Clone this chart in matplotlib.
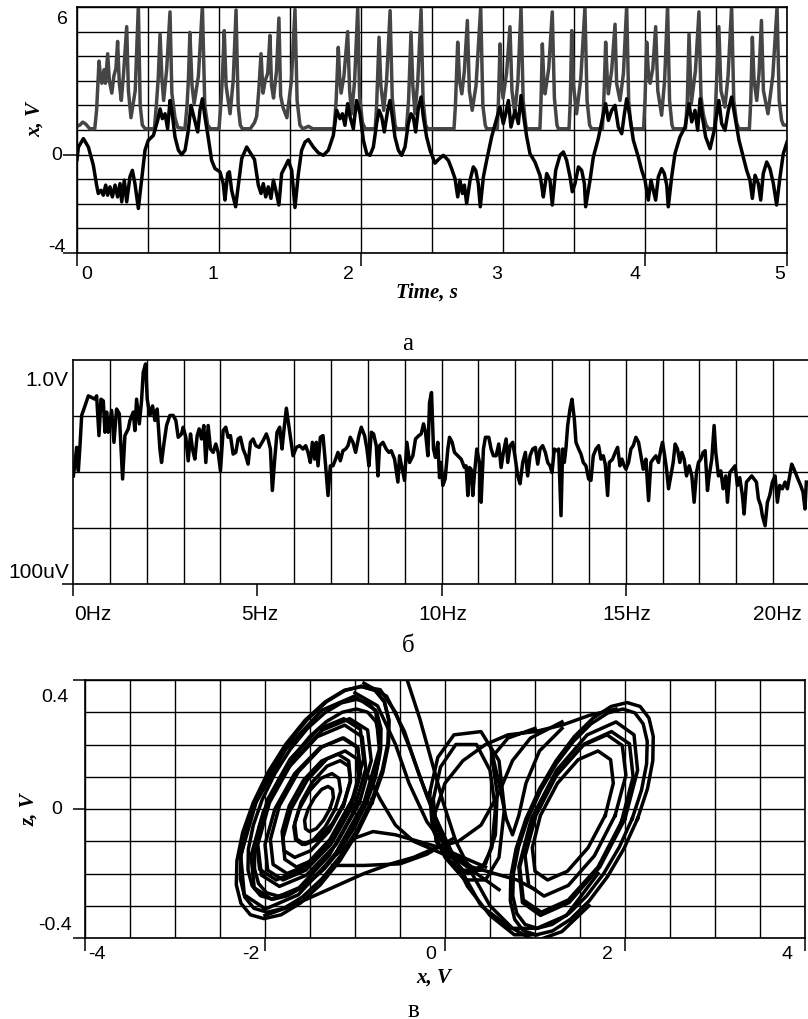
import numpy as np
import matplotlib.pyplot as plt

# ---- (a) oscillograms: (time s, volts) ----
x_trace = [
    (0.00, -0.20), (0.01, 0.31), (0.045, 0.65), (0.08, 0.31), (0.115, -0.43), (0.138, -1.24),
    (0.15, -1.58), (0.169, -1.45), (0.185, -1.65), (0.202, -1.24), (0.216, -1.65), (0.232, -1.31),
    (0.249, -1.72), (0.268, -1.24), (0.286, -1.72), (0.303, -1.18), (0.315, -1.92), (0.333, -1.04),
    (0.35, -1.92), (0.373, -0.90), (0.39, -0.64), (0.408, -1.18), (0.432, -2.19), (0.455, -1.04),
    (0.479, 0.18), (0.502, 0.58), (0.538, 0.78), (0.568, 1.39), (0.585, 1.86), (0.601, 1.46),
    (0.62, 1.66), (0.638, 1.05), (0.655, 2.20), (0.671, 1.66), (0.69, 0.72), (0.714, 0.18),
    (0.737, 0.00), (0.761, 0.18), (0.784, 0.99), (0.803, 2.00), (0.826, 1.46), (0.85, 0.92),
    (0.866, 1.80), (0.883, 2.27), (0.901, 1.53), (0.92, 0.85), (0.948, -0.23), (0.972, -0.57),
    (1.007, -0.70), (1.03, -1.18), (1.042, -1.85), (1.061, -0.77), (1.073, -0.70), (1.089, -1.45),
    (1.117, -2.12), (1.136, -1.24), (1.16, -0.16), (1.195, 0.31), (1.218, 0.10), (1.25, -0.20),
    (1.277, -1.24), (1.296, -1.58), (1.312, -1.18), (1.329, -1.72), (1.347, -1.31), (1.366, -1.78),
    (1.383, -1.04), (1.40, -1.45), (1.422, -2.05), (1.441, -0.77), (1.465, -0.50), (1.488, -0.23),
    (1.512, -0.64), (1.535, -2.15), (1.559, -0.77), (1.582, 0.18), (1.606, 0.51), (1.629, 0.61),
    (1.664, 0.31), (1.70, 0.07), (1.735, -0.03), (1.77, 0.18), (1.805, 0.78), (1.829, 1.80),
    (1.852, 1.46), (1.869, 1.66), (1.887, 1.19), (1.906, 2.07), (1.923, 1.53), (1.946, 1.05),
    (1.969, 2.20), (1.993, 1.66), (2.017, 0.58), (2.04, 0.04), (2.063, -0.03), (2.087, 0.31),
    (2.11, 1.26), (2.127, 1.80), (2.146, 1.53), (2.164, 0.92), (2.188, 1.80), (2.204, 2.20),
    (2.221, 1.53), (2.239, 0.72), (2.263, 0.18), (2.286, -0.03), (2.31, 0.31), (2.333, 1.26),
    (2.352, 1.66), (2.368, 1.53), (2.385, 0.92), (2.404, 1.90), (2.423, 2.34), (2.439, 1.53),
    (2.462, 0.72), (2.486, 0.18), (2.521, -0.35), (2.545, -0.20), (2.58, -0.03), (2.615, -0.23),
    (2.638, -0.57), (2.662, -0.97), (2.681, -1.72), (2.697, -1.04), (2.714, -1.58), (2.728, -1.24),
    (2.744, -1.99), (2.768, -1.04), (2.791, -0.50), (2.808, -0.64), (2.826, -1.18), (2.84, -2.12),
    (2.862, -0.90), (2.885, -0.23), (2.92, 0.72), (2.955, 1.46), (2.979, 1.93), (3.002, 1.26),
    (3.019, 1.66), (3.038, 2.20), (3.056, 1.12), (3.085, 1.79), (3.108, 1.26), (3.127, 2.40),
    (3.143, 1.66), (3.167, 0.72), (3.19, 0.04), (3.225, -0.30), (3.26, -0.84), (3.272, -1.24),
    (3.284, -1.72), (3.308, -0.77), (3.331, -1.04), (3.347, -2.05), (3.371, -0.64), (3.401, -0.03),
    (3.425, 0.11), (3.448, -0.23), (3.472, -0.90), (3.488, -1.51), (3.507, -1.18), (3.531, -0.50),
    (3.554, -0.64), (3.573, -1.18), (3.582, -2.12), (3.613, -1.04), (3.636, -0.10), (3.671, 0.65),
    (3.707, 1.66), (3.723, 2.07), (3.742, 1.39), (3.765, 1.79), (3.789, 2.00), (3.812, 1.12),
    (3.836, 0.85), (3.855, 1.66), (3.871, 2.27), (3.894, 1.53), (3.918, 0.58), (3.953, -0.10),
    (3.977, -0.64), (4.00, -1.04), (4.012, -1.45), (4.023, -1.85), (4.042, -1.04), (4.059, -1.45),
    (4.075, -1.85), (4.094, -0.90), (4.117, -0.57), (4.136, -0.77), (4.153, -1.24), (4.164, -2.12),
    (4.188, -0.90), (4.211, 0.04), (4.246, 0.72), (4.282, 1.12), (4.31, 2.07), (4.329, 1.33),
    (4.352, 1.80), (4.371, 0.99), (4.388, 2.27), (4.404, 1.53), (4.427, 0.72), (4.458, 0.24),
    (4.488, 1.00), (4.52, 2.20), (4.54, 1.26), (4.563, 0.99), (4.587, 1.80), (4.61, 2.34),
    (4.634, 1.53), (4.662, 0.58), (4.692, -0.10), (4.716, -0.64), (4.739, -1.04), (4.756, -1.78),
    (4.775, -0.84), (4.798, -1.18), (4.815, -1.85), (4.833, -0.77), (4.857, -0.30), (4.88, -0.57),
    (4.904, -1.18), (4.927, -2.05), (4.951, -0.90), (4.974, 0.04), (5.00, 0.51),
]

z_trace = [
    (0.00, 1.15), (0.02, 1.20), (0.04, 1.32), (0.06, 1.25), (0.09, 1.05), (0.125, 1.05),
    (0.138, 1.80), (0.148, 3.00), (0.155, 3.80), (0.165, 3.20), (0.175, 2.90), (0.19, 3.45),
    (0.20, 2.90), (0.216, 4.10), (0.228, 3.00), (0.245, 2.50), (0.26, 3.20), (0.274, 3.50),
    (0.286, 4.60), (0.298, 2.90), (0.312, 2.20), (0.328, 3.30), (0.35, 5.20), (0.362, 2.60),
    (0.38, 1.50), (0.41, 2.60), (0.432, 6.05), (0.445, 2.00), (0.46, 1.20), (0.48, 1.05),
    (0.545, 1.05), (0.56, 2.10), (0.572, 3.10), (0.585, 4.90), (0.598, 3.10), (0.61, 2.20),
    (0.632, 3.50), (0.655, 5.80), (0.668, 2.50), (0.69, 1.50), (0.71, 1.10), (0.76, 1.05),
    (0.775, 2.00), (0.785, 3.10), (0.795, 4.97), (0.81, 2.80), (0.825, 2.07), (0.855, 3.20),
    (0.883, 6.05), (0.90, 2.00), (0.92, 1.20), (0.94, 1.05), (1.00, 1.05), (1.015, 2.20),
    (1.025, 3.30), (1.037, 5.04), (1.05, 2.80), (1.078, 1.66), (1.10, 3.00), (1.12, 5.88),
    (1.135, 2.00), (1.15, 1.20), (1.165, 1.05), (1.22, 1.05), (1.25, 1.30), (1.265, 1.55),
    (1.28, 2.60), (1.296, 4.10), (1.31, 2.50), (1.325, 3.00), (1.343, 3.30), (1.359, 4.84),
    (1.37, 2.80), (1.384, 2.30), (1.405, 3.40), (1.422, 5.55), (1.434, 2.40), (1.45, 1.93),
    (1.478, 1.50), (1.51, 3.00), (1.535, 5.90), (1.55, 2.20), (1.57, 1.20), (1.59, 1.05),
    (1.63, 1.15), (1.66, 1.05), (1.81, 1.05), (1.825, 2.20), (1.84, 4.36), (1.85, 3.10),
    (1.86, 2.50), (1.88, 3.20), (1.906, 5.00), (1.92, 2.60), (1.934, 1.66), (1.955, 3.00),
    (1.977, 5.96), (1.99, 2.40), (2.01, 1.30), (2.03, 1.05), (2.10, 1.05), (2.11, 2.00),
    (2.127, 4.77), (2.14, 2.80), (2.16, 1.80), (2.18, 3.00), (2.205, 5.85), (2.22, 2.30),
    (2.24, 1.20), (2.25, 1.05), (2.32, 1.05), (2.335, 2.20), (2.352, 4.97), (2.365, 2.80),
    (2.38, 1.66), (2.40, 3.00), (2.423, 5.90), (2.437, 2.20), (2.455, 1.20), (2.47, 1.05),
    (2.655, 1.05), (2.665, 2.00), (2.681, 4.57), (2.694, 3.00), (2.71, 2.47), (2.728, 3.40),
    (2.749, 5.45), (2.763, 2.60), (2.783, 1.80), (2.81, 2.80), (2.843, 6.00), (2.858, 2.00),
    (2.875, 1.20), (2.885, 1.05), (2.96, 1.05), (2.968, 2.20), (2.979, 4.50), (2.99, 2.90),
    (3.00, 2.30), (3.025, 3.30), (3.049, 5.20), (3.063, 2.60), (3.083, 1.66), (3.105, 3.00),
    (3.127, 6.00), (3.142, 2.20), (3.16, 1.20), (3.166, 1.05), (3.26, 1.05), (3.268, 2.20),
    (3.277, 4.50), (3.288, 2.90), (3.296, 2.47), (3.322, 3.50), (3.347, 5.80), (3.362, 2.30),
    (3.38, 1.20), (3.39, 1.05), (3.465, 1.05), (3.474, 2.20), (3.484, 5.04), (3.497, 2.80),
    (3.518, 1.66), (3.548, 3.10), (3.577, 6.00), (3.592, 2.20), (3.61, 1.20), (3.624, 1.05),
    (3.70, 1.05), (3.71, 2.20), (3.723, 4.57), (3.735, 3.00), (3.742, 2.47), (3.765, 3.40),
    (3.789, 5.30), (3.80, 2.90), (3.824, 2.20), (3.848, 3.30), (3.871, 6.05), (3.885, 2.20),
    (3.90, 1.20), (3.906, 1.05), (3.99, 1.05), (4.00, 2.20), (4.012, 4.57), (4.025, 3.20),
    (4.036, 2.90), (4.055, 3.50), (4.075, 5.20), (4.09, 2.60), (4.117, 1.60), (4.138, 3.00),
    (4.159, 6.05), (4.173, 2.20), (4.19, 1.20), (4.20, 1.05), (4.285, 1.05), (4.298, 2.20),
    (4.31, 4.90), (4.322, 2.80), (4.326, 2.07), (4.355, 3.40), (4.38, 5.80), (4.394, 2.40),
    (4.41, 1.66), (4.43, 1.20), (4.45, 1.05), (4.49, 1.05), (4.50, 2.40), (4.52, 5.20),
    (4.535, 2.60), (4.563, 1.93), (4.585, 3.20), (4.61, 6.05), (4.625, 2.20), (4.645, 1.30),
    (4.66, 1.05), (4.735, 1.05), (4.745, 2.20), (4.756, 4.77), (4.768, 3.00), (4.787, 2.20),
    (4.803, 3.30), (4.82, 5.45), (4.834, 2.60), (4.866, 1.66), (4.90, 3.20), (4.93, 6.00),
    (4.945, 2.20), (4.962, 1.40), (4.975, 1.20), (5.00, 1.20),
]

# ---- (b) spectrum: (Hz, log10 of amplitude in V) ----
spectrum = [
    (0.01, -2.07), (0.054, -1.83), (0.099, -1.56), (0.145, -1.98), (0.19, -1.53), (0.235, -0.99),
    (0.325, -0.82), (0.416, -0.64), (0.506, -0.67), (0.596, -0.70), (0.641, -0.64), (0.705, -1.35),
    (0.759, -0.70), (0.822, -0.73), (0.867, -1.29), (0.912, -0.93), (0.958, -1.29), (1.048, -0.90),
    (1.111, -1.47), (1.183, -0.875), (1.256, -0.96), (1.346, -2.125), (1.409, -1.35), (1.50, -1.23),
    (1.545, -1.08), (1.635, -0.93), (1.68, -1.26), (1.725, -0.70), (1.80, -1.14), (1.86, -0.73),
    (1.906, -0.22), (1.97, -0.07), (2.014, -0.70), (2.087, -0.99), (2.159, -0.82), (2.222, -1.08),
    (2.285, -0.875), (2.358, -1.59), (2.403, -1.83), (2.466, -1.50), (2.538, -1.17), (2.629, -0.99),
    (2.719, -0.99), (2.791, -1.08), (2.855, -1.38), (2.945, -1.32), (2.99, -1.20), (3.062, -1.38),
    (3.126, -1.80), (3.189, -1.32), (3.243, -1.59), (3.306, -1.77), (3.37, -1.35), (3.424, -1.23),
    (3.487, -1.41), (3.55, -1.17), (3.604, -1.83), (3.668, -1.17), (3.731, -1.59), (3.803, -1.65),
    (3.875, -1.50), (3.939, -1.65), (4.002, -1.98), (4.074, -1.26), (4.146, -1.20), (4.21, -1.38),
    (4.273, -1.35), (4.345, -1.68), (4.417, -1.65), (4.481, -1.41), (4.544, -1.38), (4.616, -1.59),
    (4.688, -1.71), (4.752, -1.86), (4.815, -1.47), (4.887, -1.41), (4.959, -1.53), (5.05, -1.56),
    (5.158, -1.44), (5.248, -1.32), (5.294, -1.41), (5.357, -1.59), (5.41, -2.33), (5.474, -1.77),
    (5.537, -1.29), (5.609, -1.20), (5.673, -1.59), (5.718, -1.29), (5.79, -0.86), (5.881, -1.29),
    (5.971, -1.71), (6.061, -1.56), (6.152, -1.53), (6.242, -1.59), (6.314, -1.53), (6.378, -1.65),
    (6.441, -1.83), (6.495, -1.47), (6.558, -1.77), (6.603, -1.47), (6.649, -1.89), (6.712, -1.38),
    (6.784, -1.35), (6.856, -1.89), (6.92, -2.42), (6.983, -1.89), (7.055, -1.89), (7.127, -1.77),
    (7.19, -1.65), (7.254, -1.80), (7.326, -1.62), (7.398, -1.59), (7.462, -1.53), (7.525, -1.38),
    (7.597, -1.47), (7.669, -1.65), (7.76, -1.35), (7.823, -1.20), (7.913, -1.35), (7.977, -1.59),
    (8.031, -1.89), (8.094, -1.29), (8.157, -1.32), (8.23, -1.53), (8.275, -2.07), (8.32, -1.53),
    (8.41, -1.47), (8.50, -1.59), (8.573, -1.65), (8.636, -1.62), (8.726, -1.77), (8.817, -2.18),
    (8.862, -1.71), (8.934, -1.95), (8.997, -2.15), (9.06, -1.47), (9.133, -1.83), (9.223, -1.71),
    (9.295, -1.41), (9.386, -1.35), (9.449, -1.32), (9.512, -1.14), (9.566, -1.29), (9.63, -1.71),
    (9.675, -0.76), (9.729, -0.58), (9.783, -1.59), (9.837, -1.74), (9.90, -1.47), (9.946, -2.10),
    (9.991, -1.83), (10.036, -2.24), (10.099, -2.125), (10.172, -1.59), (10.217, -1.38), (10.289, -1.47),
    (10.352, -1.65), (10.443, -1.71), (10.533, -1.77), (10.623, -1.92), (10.669, -1.89), (10.714, -2.42),
    (10.759, -1.92), (10.804, -1.95), (10.849, -2.42), (10.894, -2.04), (10.958, -1.59), (11.03, -1.83),
    (11.075, -2.54), (11.138, -1.59), (11.192, -1.38), (11.283, -1.38), (11.346, -1.59), (11.409, -1.71),
    (11.482, -1.71), (11.554, -1.50), (11.617, -1.92), (11.68, -1.65), (11.753, -1.41), (11.798, -1.83),
    (11.861, -1.53), (11.933, -1.47), (12.005, -1.77), (12.069, -2.07), (12.132, -2.21), (12.204, -1.83),
    (12.276, -1.65), (12.339, -2.07), (12.403, -1.71), (12.475, -1.59), (12.547, -1.56), (12.611, -1.86),
    (12.674, -1.59), (12.746, -1.53), (12.818, -1.65), (12.882, -1.83), (12.945, -1.89), (12.999, -2.01),
    (13.062, -1.59), (13.125, -1.62), (13.18, -1.59), (13.243, -2.78), (13.288, -1.59), (13.333, -1.83),
    (13.379, -1.56), (13.424, -1.17), (13.487, -0.875), (13.541, -0.70), (13.604, -1.05), (13.649, -1.47),
    (13.722, -1.59), (13.785, -1.68), (13.848, -1.83), (13.92, -1.89), (13.993, -2.125), (14.056, -2.15),
    (14.119, -1.71), (14.192, -1.59), (14.264, -1.53), (14.327, -1.77), (14.39, -1.71), (14.444, -1.86),
    (14.508, -2.42), (14.553, -1.83), (14.643, -1.77), (14.715, -1.65), (14.779, -1.56), (14.842, -1.89),
    (14.896, -1.77), (14.959, -1.89), (15.005, -1.95), (15.077, -1.83), (15.14, -1.59), (15.203, -1.53),
    (15.276, -1.38), (15.348, -1.47), (15.411, -1.71), (15.474, -1.95), (15.547, -1.77), (15.619, -2.51),
    (15.682, -1.83), (15.745, -1.77), (15.817, -1.71), (15.889, -1.83), (15.953, -1.59), (15.998, -1.47),
    (16.043, -1.65), (16.107, -1.95), (16.161, -2.30), (16.224, -2.07), (16.287, -1.83), (16.341, -1.50),
    (16.405, -1.59), (16.468, -1.83), (16.522, -1.65), (16.585, -1.77), (16.649, -2.07), (16.721, -1.89),
    (16.793, -2.07), (16.856, -2.54), (16.919, -2.01), (16.974, -1.83), (17.037, -1.77), (17.10, -1.65),
    (17.154, -1.62), (17.218, -2.33), (17.263, -2.07), (17.335, -1.77), (17.398, -1.17), (17.443, -1.65),
    (17.516, -2.07), (17.579, -1.98), (17.642, -2.30), (17.714, -2.07), (17.76, -2.54), (17.823, -2.01),
    (17.895, -1.95), (17.967, -1.89), (18.031, -2.24), (18.094, -2.10), (18.166, -2.42), (18.211, -2.75),
    (18.275, -2.18), (18.347, -2.125), (18.419, -2.07), (18.482, -2.125), (18.546, -2.18), (18.60, -2.48),
    (18.663, -2.60), (18.708, -2.78), (18.781, -2.96), (18.844, -2.54), (18.907, -2.42), (18.979, -2.18),
    (19.052, -2.07), (19.115, -2.54), (19.178, -2.24), (19.25, -2.30), (19.323, -2.18), (19.386, -2.30),
    (19.449, -2.07), (19.503, -1.86), (19.566, -1.95), (19.657, -2.10), (19.747, -2.24), (19.81, -2.36),
    (19.864, -2.66), (19.90, -2.18),
]

# ---- (c) phase portrait z(x): turns of the scrolls, (x V, z V) ----
left_turns = [
    [(-1.28, 0.0), (-1.24, 0.035), (-1.25, 0.061), (-1.30, 0.07), (-1.37, 0.061), (-1.45, 0.035),
     (-1.52, 0.0), (-1.56, -0.035), (-1.55, -0.061), (-1.505, -0.07), (-1.43, -0.061), (-1.35, -0.035)],
    [(-1.22, 0.0), (-1.16, 0.055), (-1.18, 0.095), (-1.255, 0.11), (-1.38, 0.095), (-1.51, 0.055),
     (-1.62, 0.0), (-1.68, -0.055), (-1.66, -0.095), (-1.585, -0.11), (-1.46, -0.095), (-1.33, -0.055)],
    [(-1.12, 0.02), (-1.05, 0.085), (-1.07, 0.133), (-1.165, 0.15), (-1.31, 0.133), (-1.47, 0.085),
     (-1.60, 0.02), (-1.67, -0.045), (-1.65, -0.093), (-1.555, -0.11), (-1.41, -0.093), (-1.25, -0.045)],
    [(-1.13, 0.01), (-1.05, 0.09), (-1.07, 0.149), (-1.19, 0.17), (-1.37, 0.149), (-1.57, 0.09),
     (-1.73, 0.01), (-1.81, -0.07), (-1.79, -0.129), (-1.67, -0.15), (-1.49, -0.129), (-1.29, -0.07)],
    [(-1.05, 0.0), (-0.96, 0.09), (-0.98, 0.156), (-1.11, 0.18), (-1.31, 0.156), (-1.53, 0.09),
     (-1.71, 0.0), (-1.80, -0.09), (-1.78, -0.156), (-1.65, -0.18), (-1.45, -0.156), (-1.23, -0.09)],
    [(-1.04, 0.01), (-0.94, 0.115), (-0.97, 0.192), (-1.125, 0.22), (-1.37, 0.192), (-1.63, 0.115),
     (-1.84, 0.01), (-1.94, -0.095), (-1.91, -0.172), (-1.755, -0.20), (-1.51, -0.172), (-1.25, -0.095)],
    [(-1.05, 0.0), (-0.94, 0.11), (-0.97, 0.19), (-1.14, 0.22), (-1.39, 0.19), (-1.67, 0.11),
     (-1.89, 0.0), (-2.00, -0.11), (-1.97, -0.19), (-1.80, -0.22), (-1.55, -0.19), (-1.27, -0.11)],
    [(-0.95, 0.02), (-0.82, 0.15), (-0.86, 0.245), (-1.06, 0.28), (-1.36, 0.245), (-1.69, 0.15),
     (-1.95, 0.02), (-2.08, -0.11), (-2.04, -0.205), (-1.84, -0.24), (-1.54, -0.205), (-1.21, -0.11)],
    [(-1.03, 0.03), (-0.905, 0.155), (-0.94, 0.247), (-1.125, 0.28), (-1.41, 0.247), (-1.72, 0.155),
     (-1.97, 0.03), (-2.095, -0.095), (-2.06, -0.187), (-1.875, -0.22), (-1.59, -0.187), (-1.28, -0.095)],
    [(-1.02, -0.01), (-0.88, 0.125), (-0.92, 0.224), (-1.115, 0.26), (-1.42, 0.224), (-1.75, 0.125),
     (-2.02, -0.01), (-2.155, -0.145), (-2.12, -0.244), (-1.925, -0.28), (-1.62, -0.244), (-1.29, -0.145)],
    [(-0.90, 0.02), (-0.73, 0.185), (-0.77, 0.306), (-1.005, 0.35), (-1.37, 0.306), (-1.77, 0.185),
     (-2.10, 0.02), (-2.27, -0.145), (-2.23, -0.266), (-1.995, -0.31), (-1.63, -0.266), (-1.23, -0.145)],
]

left_outer = [
    [(-0.87, 0.03), (-0.77, 0.11), (-0.715, 0.185), (-0.711, 0.249), (-0.757, 0.298), (-0.851, 0.329),
     (-0.985, 0.34), (-1.151, 0.329), (-1.337, 0.298), (-1.531, 0.249), (-1.72, 0.185), (-1.89, 0.11),
     (-2.03, 0.03), (-2.13, -0.05), (-2.185, -0.125), (-2.189, -0.189), (-2.143, -0.238), (-2.049, -0.269),
     (-1.915, -0.28), (-1.749, -0.269), (-1.563, -0.238), (-1.369, -0.189), (-1.18, -0.125), (-1.01, -0.05)],
    [(-0.87, 0.02), (-0.776, 0.095), (-0.727, 0.165), (-0.723, 0.225), (-0.768, 0.271), (-0.858, 0.30),
     (-0.985, 0.31), (-1.142, 0.30), (-1.318, 0.271), (-1.501, 0.225), (-1.679, 0.165), (-1.838, 0.095),
     (-1.97, 0.02), (-2.064, -0.055), (-2.114, -0.125), (-2.117, -0.185), (-2.072, -0.231), (-1.982, -0.26),
     (-1.855, -0.27), (-1.698, -0.26), (-1.522, -0.231), (-1.339, -0.185), (-1.162, -0.125), (-1.002, -0.055)],
    [(-0.81, 0.03), (-0.696, 0.121), (-0.634, 0.205), (-0.627, 0.277), (-0.675, 0.333), (-0.777, 0.368),
     (-0.925, 0.38), (-1.109, 0.368), (-1.315, 0.333), (-1.531, 0.277), (-1.742, 0.205), (-1.932, 0.121),
     (-2.09, 0.03), (-2.204, -0.061), (-2.267, -0.145), (-2.273, -0.217), (-2.225, -0.273), (-2.123, -0.308),
     (-1.975, -0.32), (-1.791, -0.308), (-1.585, -0.273), (-1.369, -0.217), (-1.159, -0.145), (-0.968, -0.061)],
    [(-0.81, 0.02), (-0.692, 0.113), (-0.628, 0.20), (-0.621, 0.275), (-0.672, 0.332), (-0.777, 0.368),
     (-0.93, 0.38), (-1.119, 0.368), (-1.332, 0.332), (-1.555, 0.275), (-1.772, 0.20), (-1.968, 0.113),
     (-2.13, 0.02), (-2.248, -0.073), (-2.312, -0.16), (-2.319, -0.235), (-2.268, -0.292), (-2.163, -0.328),
     (-2.01, -0.34), (-1.821, -0.328), (-1.608, -0.292), (-1.385, -0.235), (-1.168, -0.16), (-0.972, -0.073)],
]

right_turns = [
    [(1.78, -0.02), (1.87, 0.08), (1.84, 0.153), (1.70, 0.18), (1.48, 0.153), (1.25, 0.08),
     (1.06, -0.02), (0.97, -0.12), (1.00, -0.193), (1.14, -0.22), (1.36, -0.193), (1.59, -0.12)],
    [(1.89, -0.02), (2.01, 0.105), (1.97, 0.197), (1.80, 0.23), (1.53, 0.197), (1.24, 0.105),
     (1.01, -0.02), (0.89, -0.145), (0.93, -0.237), (1.10, -0.27), (1.37, -0.237), (1.66, -0.145)],
    [(1.96, -0.04), (2.09, 0.10), (2.05, 0.202), (1.85, 0.24), (1.55, 0.202), (1.22, 0.10),
     (0.96, -0.04), (0.83, -0.18), (0.87, -0.282), (1.07, -0.32), (1.37, -0.282), (1.70, -0.18)],
    [(2.00, -0.03), (2.14, 0.12), (2.10, 0.23), (1.90, 0.27), (1.58, 0.23), (1.24, 0.12),
     (0.96, -0.03), (0.82, -0.18), (0.86, -0.29), (1.06, -0.33), (1.38, -0.29), (1.72, -0.18)],
]

right_outer = [
    [(2.08, -0.03), (2.183, 0.058), (2.24, 0.14), (2.247, 0.21), (2.202, 0.264), (2.11, 0.298),
     (1.976, 0.31), (1.81, 0.298), (1.622, 0.264), (1.427, 0.21), (1.236, 0.14), (1.063, 0.058),
     (0.92, -0.03), (0.817, -0.118), (0.76, -0.20), (0.753, -0.27), (0.798, -0.324), (0.89, -0.358),
     (1.024, -0.37), (1.19, -0.358), (1.378, -0.324), (1.573, -0.27), (1.764, -0.20), (1.937, -0.118)],
    [(2.14, -0.03), (2.25, 0.063), (2.309, 0.15), (2.314, 0.225), (2.266, 0.282), (2.168, 0.318),
     (2.024, 0.33), (1.846, 0.318), (1.646, 0.282), (1.438, 0.225), (1.235, 0.15), (1.052, 0.063),
     (0.90, -0.03), (0.79, -0.123), (0.731, -0.21), (0.726, -0.285), (0.774, -0.342), (0.872, -0.378),
     (1.016, -0.39), (1.194, -0.378), (1.394, -0.342), (1.602, -0.285), (1.805, -0.21), (1.988, -0.123)],
]

middle_turns = [
    [(-0.13, 0.03), (-0.05, 0.13), (0.12, 0.20), (0.35, 0.20), (0.50, 0.12), (0.56, 0.0),
     (0.52, -0.12), (0.40, -0.19), (0.20, -0.19), (0.02, -0.13), (-0.10, -0.05)],
    [(-0.17, 0.05), (-0.08, 0.16), (0.10, 0.23), (0.40, 0.24), (0.60, 0.15), (0.66, 0.0),
     (0.60, -0.15), (0.45, -0.22), (0.22, -0.22), (0.0, -0.15), (-0.14, -0.06)],
]

crossings = [
    [(-0.52, 0.48), (-0.42, 0.40), (-0.28, 0.28), (-0.15, 0.15), (-0.02, 0.02), (0.12, -0.10),
     (0.30, -0.20), (0.50, -0.30), (0.75, -0.37), (1.00, -0.41), (1.30, -0.38), (1.60, -0.30)],
    [(-0.93, 0.38), (-0.72, 0.37), (-0.55, 0.30), (-0.38, 0.18), (-0.20, 0.04), (0.0, -0.10),
     (0.25, -0.24), (0.50, -0.33), (0.77, -0.39), (1.02, -0.39)],
    [(-0.90, 0.39), (-0.65, 0.35), (-0.45, 0.24), (-0.28, 0.10), (-0.10, -0.03), (0.12, -0.16),
     (0.40, -0.30), (0.73, -0.37), (1.02, -0.37), (1.35, -0.33), (1.70, -0.20)],
    [(-1.00, 0.36), (-0.75, 0.32), (-0.55, 0.20), (-0.40, 0.08), (-0.20, -0.04), (0.05, -0.13),
     (0.30, -0.18), (0.55, -0.20), (0.80, -0.22), (1.00, -0.25)],
    [(1.90, 0.31), (1.60, 0.29), (1.30, 0.26), (1.00, 0.24), (0.70, 0.23), (0.45, 0.20),
     (0.20, 0.15), (0.0, 0.08), (-0.12, -0.02), (-0.10, -0.10), (0.05, -0.16), (0.25, -0.20),
     (0.45, -0.17), (0.56, -0.08), (0.58, 0.05), (0.52, 0.16), (0.70, 0.22), (1.00, 0.25)],
    [(0.45, -0.18), (0.20, -0.15), (-0.05, -0.12), (-0.30, -0.10), (-0.55, -0.08), (-0.80, -0.07),
     (-1.00, -0.09), (-1.20, -0.14)],
    [(-2.00, -0.33), (-1.70, -0.30), (-1.30, -0.25), (-0.90, -0.20), (-0.60, -0.17), (-0.35, -0.15),
     (-0.10, -0.12), (0.15, -0.10), (0.40, -0.05), (0.60, 0.05), (0.75, 0.15), (0.95, 0.22), (1.30, 0.27)],
    [(-1.25, -0.175), (-0.90, -0.175), (-0.50, -0.17), (-0.20, -0.14), (0.10, -0.09)],
    [(-0.85, 0.10), (-0.72, 0.03), (-0.55, -0.05), (-0.35, -0.10), (-0.10, -0.13), (0.15, -0.16),
     (0.35, -0.20), (0.60, -0.25)],
    [(0.50, 0.20), (0.60, 0.08), (0.68, -0.03), (0.75, -0.08), (0.82, -0.02), (0.90, 0.08),
     (1.05, 0.18), (1.30, 0.25)],
]

W, H = 808, 1020
SANS = 'Liberation Sans'
SERIF = 'Liberation Serif'
LW = 2.5

fig = plt.figure(figsize=(W / 100, H / 100), dpi=100)


def box(l, t, r, b):
    return [l / W, 1 - b / H, (r - l) / W, (b - t) / H]


def label(x, y, s, size=14, **kw):
    kw.setdefault('family', SANS)
    fig.text(x / W, 1 - y / H, s, ha='center', va='center', fontsize=size, **kw)


def frame(ax):
    for sp in ax.spines.values():
        sp.set_linewidth(1.2)
        sp.set_color('black')
    ax.tick_params(which='both', labelbottom=False, labelleft=False, direction='out',
                   color='black', width=1.1)
    ax.tick_params(which='minor', length=0)


# ---------- (a) ----------
ax1 = fig.add_axes(box(77, 8, 787, 254))
t_z, v_z = zip(*z_trace)
t_x, v_x = zip(*x_trace)
ax1.plot(t_z, v_z, color='#454545', lw=LW, solid_joinstyle='round')
ax1.plot(t_x, v_x, color='black', lw=LW, solid_joinstyle='round')
ax1.set_xlim(0, 5)
ax1.set_ylim(-4, 6)
ax1.set_xticks([0, 2, 4, 5])
ax1.set_xticks(np.arange(0, 5.01, 0.5), minor=True)
ax1.set_yticks([-4, 0])
ax1.set_yticks(np.arange(-4, 6.01, 1), minor=True)
ax1.grid(which='both', color='black', lw=1.0)
frame(ax1)
ax1.tick_params(axis='x', which='major', length=9.5)
ax1.tick_params(axis='y', which='major', length=10)

for s, x, y in [('6', 62, 20), ('0', 57, 156), ('-4', 57, 248)]:
    label(x, y, s)
for s, x in [('0', 87), ('1', 213), ('2', 348), ('3', 497), ('4', 635), ('5', 780)]:
    label(x, 275, s)
label(427, 293, 'Time, s', 15, family=SERIF, weight='bold', style='italic')
label(35, 120, 'x, V', 15, family=SERIF, weight='bold', style='italic', rotation=90)
label(408, 344, 'а', 18, family=SERIF)

# ---------- (b) ----------
ax2 = fig.add_axes(box(73, 361, 810, 585))
f_hz, log_amp = zip(*spectrum)
ax2.plot(f_hz, 10 ** np.array(log_amp), color='black', lw=LW, solid_joinstyle='round')
ax2.set_yscale('log')
ax2.set_xlim(0, 20)
ax2.set_ylim(1e-4, 1)
ax2.set_xticks([0, 5, 10, 15, 20])
ax2.set_xticks([h for h in range(1, 20) if h != 5], minor=True)
ax2.xaxis.remove_overlapping_locs = False
ax2.set_yticks([1e-4])
ax2.set_yticks([1e-3, 1e-2, 1e-1], minor=True)
ax2.grid(which='minor', color='black', lw=1.0)
frame(ax2)
ax2.tick_params(axis='x', which='major', length=8.6)
ax2.tick_params(axis='y', which='major', length=8)

label(47, 380, '1.0V', 15)
label(39, 573, '100uV', 15)
for s, x in [('0Hz', 93), ('5Hz', 260), ('10Hz', 443), ('15Hz', 627), ('20Hz', 777)]:
    label(x, 615, s, 15)
label(408, 646, 'б', 18, family=SERIF)

# ---------- (c) ----------
ax3 = fig.add_axes(box(85, 681, 805, 939))
for group in (left_turns, left_outer, right_turns, right_outer, middle_turns):
    for turn in group:
        xs, zs = zip(*(turn + turn[:1]))
        ax3.plot(xs, zs, color='black', lw=LW, solid_joinstyle='round')
for path in crossings:
    xs, zs = zip(*path)
    ax3.plot(xs, zs, color='black', lw=LW, solid_joinstyle='round')
ax3.set_xlim(-4, 4)
ax3.set_ylim(-0.4, 0.4)
ax3.set_xticks([-4, -2, 0, 2, 4])
ax3.set_xticks(np.arange(-4, 4.01, 0.5), minor=True)
ax3.set_yticks([-0.4, 0, 0.4])
ax3.set_yticks(np.arange(-0.4, 0.41, 0.1), minor=True)
ax3.grid(which='both', color='black', lw=1.0)
frame(ax3)
ax3.tick_params(axis='x', which='major', length=9.5)
ax3.tick_params(axis='y', which='major', length=8.5)

for s, y in [('0.4', 697), ('0', 810), ('-0.4', 926)]:
    label(55 if s != '0' else 57, y, s)
for s, x in [('-4', 97), ('-2', 251), ('0', 431), ('2', 607), ('4', 787)]:
    label(x, 955, s)
label(434, 978, 'x, V', 15, family=SERIF, weight='bold', style='italic')
label(29, 810, 'z, V', 15, family=SERIF, weight='bold', style='italic', rotation=90)
label(413, 1011, 'в', 18, family=SERIF)

fig.savefig('out.png', dpi=100)
